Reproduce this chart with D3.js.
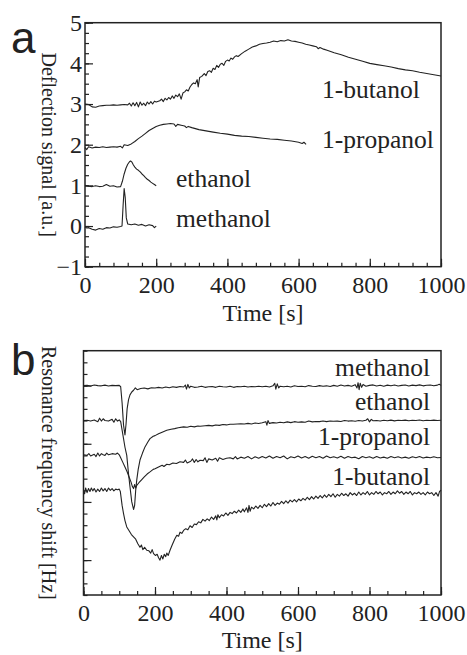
<!DOCTYPE html>
<html><head><meta charset="utf-8">
<script src="https://cdn.jsdelivr.net/npm/d3@7"></script>
<style>
html,body{margin:0;padding:0;background:#fff;}
svg{display:block;}
</style></head>
<body><svg id="c" width="467" height="655"></svg>
<script>
// ---------- DATA ----------
// Panel a: deflection signal [a.u.] vs time [s]
const aMethanol = [[0,-0.02],[5,-0.05],[10,-0.04],[20,-0.08],[30,-0.1],[40,-0.06],[50,-0.08],[60,-0.04],[70,-0.05],[80,-0.02],[90,-0.03],[100,-0.01],[104,0.0],[107,0.5],[110,0.92],[113,0.7],[116,0.2],[120,0.05],[130,0.03],[140,0.05],[150,0.02],[160,0.04],[170,0.0],[180,0.03],[190,0.01],[195,-0.04],[200,0.0]];
const aEthanol = [[0,1.0],[10,0.98],[20,0.97],[30,0.99],[40,0.97],[50,0.98],[60,1.02],[70,0.98],[80,0.99],[90,0.96],[100,0.97],[105,1.1],[110,1.28],[115,1.42],[120,1.52],[125,1.58],[128,1.6],[132,1.57],[136,1.5],[140,1.45],[145,1.4],[150,1.37],[155,1.33],[160,1.28],[165,1.24],[170,1.19],[175,1.15],[180,1.12],[185,1.08],[190,1.05],[195,1.02],[200,0.99]];
const aPropanol = [[0,1.93],[5,1.88],[10,1.95],[20,1.92],[30,1.94],[40,1.93],[50,1.95],[60,1.93],[70,1.94],[80,1.95],[90,1.94],[100,1.96],[105,1.92],[110,2.0],[120,1.98],[130,2.02],[140,2.08],[150,2.15],[160,2.21],[170,2.28],[180,2.35],[190,2.4],[200,2.45],[210,2.48],[220,2.5],[230,2.51],[240,2.52],[250,2.51],[255,2.45],[260,2.5],[270,2.48],[280,2.46],[285,2.42],[290,2.45],[300,2.42],[320,2.37],[340,2.34],[360,2.31],[380,2.28],[400,2.26],[420,2.23],[440,2.21],[460,2.2],[480,2.18],[500,2.16],[520,2.14],[540,2.13],[560,2.11],[580,2.09],[600,2.06],[610,2.03],[615,2.06],[621,2.01]];
const aButanol = [[0,3.0],[10,2.99],[20,2.93],[30,2.92],[40,2.95],[50,2.96],[60,2.97],[70,2.97],[80,2.98],[90,2.97],[100,2.98],[110,2.99],[120,2.98],[125,3.02],[130,2.95],[135,3.03],[140,2.96],[145,3.04],[150,2.93],[155,3.05],[160,2.97],[165,3.02],[170,2.96],[175,3.05],[180,3.0],[185,3.06],[190,3.0],[195,3.07],[200,3.05],[210,3.08],[215,3.12],[220,3.06],[225,3.14],[230,3.1],[235,3.16],[240,3.12],[245,3.2],[250,3.14],[255,3.22],[260,3.18],[265,3.25],[270,3.12],[275,3.27],[280,3.3],[285,3.35],[290,3.32],[295,3.42],[300,3.48],[305,3.52],[310,3.5],[315,3.6],[318,3.42],[322,3.65],[328,3.68],[335,3.75],[340,3.7],[345,3.8],[350,3.82],[355,3.78],[360,3.88],[365,3.85],[370,3.95],[375,3.9],[380,3.98],[385,4.0],[390,3.95],[395,4.05],[400,4.08],[405,4.06],[410,4.13],[415,4.1],[420,4.16],[425,4.19],[430,4.17],[440,4.24],[450,4.3],[460,4.35],[470,4.4],[480,4.43],[490,4.47],[500,4.49],[510,4.5],[520,4.52],[530,4.55],[540,4.53],[550,4.56],[560,4.55],[570,4.58],[580,4.55],[590,4.54],[600,4.52],[610,4.5],[620,4.47],[630,4.45],[640,4.43],[650,4.41],[655,4.36],[660,4.39],[670,4.35],[680,4.32],[690,4.29],[700,4.26],[720,4.21],[740,4.15],[760,4.1],[780,4.05],[800,4.0],[820,3.97],[840,3.94],[860,3.91],[880,3.87],[900,3.84],[920,3.82],[940,3.78],[960,3.75],[980,3.72],[1000,3.69]];

// Panel b: resonance frequency shift (arbitrary offset units) vs time [s]
const bMethanol = [[0,0],[10,0.02],[20,-0.03],[30,0.05],[40,0],[50,-0.02],[60,0.04],[70,-0.03],[80,0.02],[90,0],[100,0.02],[104,-0.1],[108,-1.5],[112,-3.4],[116,-4.25],[119,-3.3],[122,-2.0],[126,-1.2],[130,-0.8],[135,-0.55],[140,-0.4],[145,-0.2],[150,-0.35],[160,-0.25],[170,-0.2],[180,-0.28],[190,-0.18],[200,-0.2],[210,-0.15],[220,-0.2],[230,-0.12],[240,-0.18],[250,-0.1],[260,-0.15],[270,-0.08],[280,-0.12],[285,0.05],[288,-0.3],[292,0.1],[296,-0.2],[300,-0.05],[310,-0.15],[320,-0.12],[330,-0.05],[340,-0.15],[350,-0.1],[360,-0.08],[370,-0.15],[380,-0.05],[390,-0.1],[400,-0.12],[410,-0.05],[420,-0.15],[430,-0.08],[440,-0.1],[450,-0.05],[460,-0.12],[470,-0.08],[480,-0.1],[490,-0.05],[500,-0.1],[510,-0.05],[520,-0.12],[530,-0.02],[535,0.2],[538,-0.3],[542,0.15],[546,-0.2],[550,-0.05],[560,-0.1],[570,-0.05],[580,-0.12],[590,-0.02],[600,-0.08],[610,-0.05],[620,-0.1],[630,0],[640,-0.05],[650,-0.08],[660,0],[670,-0.06],[680,-0.02],[690,-0.08],[700,0.02],[710,-0.05],[720,0.05],[730,-0.04],[740,0.02],[750,-0.05],[760,0.08],[765,-0.2],[768,0.25],[771,-0.35],[774,0.2],[778,-0.15],[782,0.1],[790,-0.05],[800,0.02],[810,0.06],[820,-0.04],[830,0.03],[840,-0.05],[850,0.04],[860,-0.02],[870,0.05],[880,-0.03],[890,0.02],[900,0.05],[910,-0.03],[920,0.04],[930,0],[940,0.06],[950,-0.02],[960,0.03],[970,0.05],[980,-0.02],[990,0.04],[995,0.12],[1000,0.02]];
const bEthanol = [[0,-3],[10,-2.98],[20,-3.05],[30,-2.95],[40,-3.1],[45,-2.8],[50,-3.05],[55,-2.85],[60,-3.0],[70,-3.05],[80,-2.9],[85,-3.15],[90,-2.85],[95,-3.05],[100,-2.95],[104,-3.1],[110,-4.2],[116,-5.3],[121,-6.0],[126,-7.6],[130,-8.7],[135,-10.0],[140,-10.65],[143,-10.3],[146,-9.0],[149,-8.1],[153,-7.2],[158,-6.4],[165,-5.8],[172,-5.27],[180,-4.85],[186,-4.56],[195,-4.35],[200,-4.3],[210,-4.13],[220,-4.0],[233,-3.84],[245,-3.75],[255,-3.7],[265,-3.62],[280,-3.55],[290,-3.58],[300,-3.5],[310,-3.55],[320,-3.48],[326,-3.5],[340,-3.45],[350,-3.42],[360,-3.46],[370,-3.38],[380,-3.42],[390,-3.35],[400,-3.38],[410,-3.32],[419,-3.32],[430,-3.3],[440,-3.28],[450,-3.3],[460,-3.25],[470,-3.3],[480,-3.22],[490,-3.26],[500,-3.2],[510,-3.1],[513,-3.4],[516,-3.0],[520,-3.25],[530,-3.18],[540,-3.22],[550,-3.15],[560,-3.2],[570,-3.12],[580,-3.18],[590,-3.1],[600,-3.15],[610,-3.12],[620,-3.15],[630,-3.05],[640,-3.12],[650,-3.08],[660,-3.1],[670,-3.05],[680,-3.1],[690,-3.05],[699,-3.07],[710,-3.05],[720,-3.08],[730,-3.0],[740,-3.05],[750,-3.02],[760,-3.06],[770,-3.0],[780,-3.05],[790,-2.98],[795,-2.85],[800,-3.12],[805,-2.9],[810,-3.02],[820,-3.0],[830,-3.05],[840,-2.98],[850,-3.02],[860,-2.97],[870,-3.03],[880,-2.98],[890,-3.0],[900,-2.97],[910,-3.02],[920,-2.98],[930,-3.0],[940,-2.96],[950,-3.02],[960,-2.98],[970,-3.0],[980,-2.97],[990,-3.0],[1000,-2.98]];
const bPropanol = [[0,-5.95],[10,-6.0],[15,-5.85],[20,-6.05],[30,-5.9],[35,-6.1],[40,-5.8],[45,-6.05],[50,-5.85],[55,-5.95],[60,-6.0],[65,-5.8],[70,-5.95],[80,-5.85],[90,-5.9],[95,-5.8],[100,-5.95],[104,-6.2],[110,-6.6],[116,-7.0],[122,-7.4],[128,-7.9],[133,-8.3],[137,-8.7],[140,-8.85],[143,-8.5],[146,-8.8],[149,-8.57],[155,-8.35],[163,-8.08],[170,-7.85],[178,-7.6],[186,-7.42],[195,-7.2],[200,-7.15],[210,-6.99],[220,-6.85],[225,-6.95],[233,-6.76],[240,-6.8],[250,-6.65],[260,-6.7],[270,-6.55],[280,-6.6],[285,-6.4],[290,-6.65],[300,-6.5],[305,-6.3],[310,-6.6],[315,-6.35],[320,-6.55],[326,-6.42],[335,-6.45],[340,-6.2],[345,-6.6],[350,-6.3],[360,-6.4],[370,-6.25],[375,-6.5],[380,-6.2],[390,-6.35],[400,-6.25],[410,-6.2],[419,-6.3],[425,-6.1],[430,-6.3],[440,-6.15],[450,-6.25],[460,-6.1],[470,-6.3],[480,-6.12],[490,-6.25],[500,-6.1],[510,-6.22],[520,-6.05],[530,-6.25],[540,-6.1],[550,-6.2],[560,-6.05],[570,-6.3],[580,-6.12],[590,-6.2],[600,-6.05],[610,-6.22],[620,-6.1],[630,-6.25],[640,-6.08],[650,-6.2],[660,-6.1],[670,-6.25],[680,-6.05],[690,-6.2],[700,-6.12],[710,-6.22],[720,-6.08],[730,-6.25],[740,-6.1],[750,-6.2],[760,-6.15],[770,-6.28],[780,-6.1],[790,-6.2],[800,-6.12],[810,-6.25],[820,-6.1],[830,-6.22],[840,-6.15],[850,-6.25],[860,-6.1],[870,-6.2],[880,-6.12],[890,-6.22],[900,-6.15],[910,-6.25],[920,-6.12],[930,-6.2],[940,-6.1],[950,-6.22],[960,-6.15],[970,-6.2],[980,-6.12],[990,-6.2],[1000,-6.18]];
const bButanol = [[0,-9.0],[3,-9.3],[6,-8.8],[10,-9.2],[14,-8.85],[18,-9.1],[22,-8.8],[26,-9.05],[30,-8.85],[35,-9.15],[40,-8.9],[45,-9.1],[50,-8.8],[55,-9.05],[60,-8.85],[65,-9.1],[70,-8.8],[75,-9.0],[80,-8.85],[85,-9.05],[90,-8.9],[95,-8.95],[100,-8.9],[103,-9.1],[108,-10.3],[112,-11.0],[116,-11.6],[121,-12.15],[128,-12.5],[134,-12.8],[140,-13.0],[146,-13.2],[152,-13.6],[158,-13.9],[162,-13.7],[166,-14.1],[171,-13.9],[177,-14.15],[183,-14.2],[188,-14.4],[192,-14.1],[196,-14.44],[201,-14.6],[206,-14.5],[210,-14.8],[214,-15.0],[218,-14.6],[222,-14.9],[226,-14.5],[230,-14.7],[233,-14.4],[237,-14.6],[242,-14.15],[248,-13.7],[255,-13.2],[261,-12.87],[266,-12.95],[270,-12.6],[275,-12.7],[280,-12.45],[286,-12.3],[292,-12.4],[298,-12.05],[304,-12.2],[310,-11.9],[316,-11.95],[322,-11.7],[328,-11.8],[334,-11.5],[340,-11.65],[346,-11.45],[352,-11.6],[358,-11.3],[364,-11.5],[370,-11.2],[373,-11.55],[376,-11.1],[380,-11.35],[386,-11.1],[392,-11.2],[398,-10.95],[404,-11.15],[410,-10.9],[416,-11.0],[422,-10.8],[428,-10.95],[434,-10.7],[440,-10.9],[446,-10.6],[450,-10.85],[456,-10.5],[460,-10.9],[463,-10.3],[466,-10.8],[470,-10.45],[476,-10.6],[482,-10.35],[488,-10.55],[494,-10.3],[500,-10.5],[506,-10.2],[512,-10.4],[518,-10.15],[524,-10.35],[530,-10.05],[536,-10.3],[542,-10.1],[548,-10.2],[554,-9.95],[560,-10.15],[566,-9.9],[572,-10.1],[578,-9.85],[584,-10.0],[590,-9.8],[596,-10.0],[602,-9.75],[608,-9.9],[614,-9.7],[620,-9.85],[626,-9.6],[632,-9.8],[638,-9.55],[644,-9.75],[650,-9.5],[656,-9.7],[662,-9.45],[668,-9.65],[674,-9.4],[680,-9.6],[686,-9.35],[692,-9.55],[698,-9.3],[704,-9.6],[710,-9.35],[716,-9.5],[722,-9.25],[728,-9.45],[734,-9.3],[740,-9.5],[746,-9.2],[752,-9.4],[758,-9.25],[764,-9.45],[770,-9.15],[776,-9.4],[782,-9.2],[788,-9.35],[794,-9.1],[800,-9.4],[806,-9.2],[812,-9.35],[818,-9.1],[824,-9.3],[830,-9.15],[836,-9.4],[842,-9.2],[848,-9.3],[854,-9.1],[860,-9.35],[866,-9.15],[872,-9.3],[878,-9.05],[884,-9.25],[890,-9.1],[896,-9.35],[902,-9.15],[908,-9.3],[914,-9.1],[920,-9.4],[926,-9.2],[932,-9.3],[938,-9.15],[944,-9.35],[950,-9.2],[956,-9.4],[962,-9.15],[968,-9.3],[974,-9.2],[980,-9.45],[986,-9.2],[992,-9.5],[996,-9.1],[1000,-9.0]];

// tick labels
const xTickLabels = [0,200,400,600,800,1000];
const aYTickLabels = [-1,0,1,2,3,4,5];
const aLabels = ["methanol","ethanol","1-propanol","1-butanol"];
const bLabels = ["methanol","ethanol","1-propanol","1-butanol"];

// ---------- DRAW ----------
const svg = d3.select("#c");
const ink = "#222";
const SERIF = "'Liberation Serif', 'Times New Roman', serif";
const SANS = "'Liberation Sans', Arial, sans-serif";

function panel(cfg){
  const g = svg.append("g");
  const x = d3.scaleLinear().domain([0,1000]).range([cfg.left,cfg.right]);
  const y = d3.scaleLinear().domain(cfg.yDomain).range([cfg.bottom,cfg.top]);
  // minor ticks
  g.append("g").attr("transform",`translate(0,${cfg.bottom})`)
    .call(d3.axisBottom(x).tickValues(d3.range(0,1001,cfg.xMinor)).tickSizeInner(-4).tickSizeOuter(0).tickFormat(""))
    .call(s=>s.select(".domain").remove());
  g.append("g").attr("transform",`translate(0,${cfg.bottom})`)
    .call(d3.axisBottom(x).tickValues(xTickLabels).tickSizeInner(-8).tickSizeOuter(0).tickPadding(9).tickFormat(d3.format("d")))
    .call(s=>s.select(".domain").remove())
    .call(s=>s.selectAll("text").style("font-size","24px").style("font-family",SERIF).attr("fill",ink).attr("dy","0.72em"));
  g.append("g").attr("transform",`translate(${cfg.left},0)`)
    .call(d3.axisLeft(y).tickValues(cfg.yMinorTicks).tickSizeInner(-4).tickSizeOuter(0).tickFormat(""))
    .call(s=>s.select(".domain").remove());
  g.append("g").attr("transform",`translate(${cfg.left},0)`)
    .call(d3.axisLeft(y).tickValues(cfg.yMajorTicks).tickSizeInner(-8).tickSizeOuter(0).tickPadding(3).tickFormat(cfg.yFormat))
    .call(s=>s.select(".domain").remove())
    .call(s=>s.selectAll("text").style("font-size","24px").style("font-family",SERIF).attr("fill",ink));
  g.selectAll(".tick line").attr("stroke",ink).attr("stroke-width",1.2);
  // frame
  g.append("rect").attr("x",cfg.left).attr("y",cfg.top).attr("width",cfg.right-cfg.left).attr("height",cfg.bottom-cfg.top)
    .attr("fill","none").attr("stroke",ink).attr("stroke-width",1.5);
  // series
  const line = d3.line().x(d=>x(d[0])).y(d=>y(d[1]));
  cfg.series.forEach(s=>{
    g.append("path").datum(s).attr("d",line).attr("fill","none").attr("stroke",ink).attr("stroke-width",1.1).attr("stroke-linejoin","round");
  });
  // x title
  g.append("text").attr("x",(cfg.left+cfg.right)/2).attr("y",cfg.xTitleY).attr("text-anchor","middle")
    .style("font-family",SERIF).style("font-size","24px").attr("fill",ink).text("Time [s]");
  // y title
  g.append("text").attr("transform",`translate(${cfg.yTitleX},${(cfg.top+cfg.bottom)/2}) rotate(90)`)
    .attr("text-anchor","middle").style("font-family",SERIF).style("font-size","20px").attr("fill",ink).text(cfg.yTitle);
  // panel letter
  g.append("text").attr("x",11).attr("y",cfg.letterY).style("font-family",SANS).style("font-size","44px").attr("fill",ink).text(cfg.letter);
  // series labels
  cfg.labels.forEach(l=>{
    g.append("text").attr("x",l.x).attr("y",l.y).attr("text-anchor",l.anchor)
      .style("font-family",SERIF).style("font-size","25.5px").attr("fill",ink).text(l.t);
  });
  return {x,y};
}

panel({
  left:85, right:441, top:22.7, bottom:266.7, yDomain:[-1,5],
  xMinor:40, yMinorTicks:d3.range(-1,5.001,0.25), yMajorTicks:aYTickLabels, yFormat:d3.format("d"),
  series:[aMethanol,aEthanol,aPropanol,aButanol],
  xTitleY:321, yTitleX:42, yTitle:"Deflection signal [a.u.]", letter:"a", letterY:53,
  labels:[
    {t:aLabels[0],x:176,y:227,anchor:"start"},
    {t:aLabels[1],x:176,y:187,anchor:"start"},
    {t:aLabels[2],x:322,y:148,anchor:"start"},
    {t:aLabels[3],x:322,y:98,anchor:"start"}
  ]
});

panel({
  left:83.5, right:441, top:350.7, bottom:595, yDomain:[-18,3],
  xMinor:50, yMinorTicks:d3.range(-18,3.001,1), yMajorTicks:[-15,-10,-5,0], yFormat:()=>"",
  series:[bMethanol,bEthanol,bPropanol,bButanol],
  xTitleY:648, yTitleX:42, yTitle:"Resonance frequency shift [Hz]", letter:"b", letterY:375,
  labels:[
    {t:bLabels[0],x:430,y:376,anchor:"end"},
    {t:bLabels[1],x:430,y:410,anchor:"end"},
    {t:bLabels[2],x:430,y:445,anchor:"end"},
    {t:bLabels[3],x:430,y:485,anchor:"end"}
  ]
});
</script></body></html>
